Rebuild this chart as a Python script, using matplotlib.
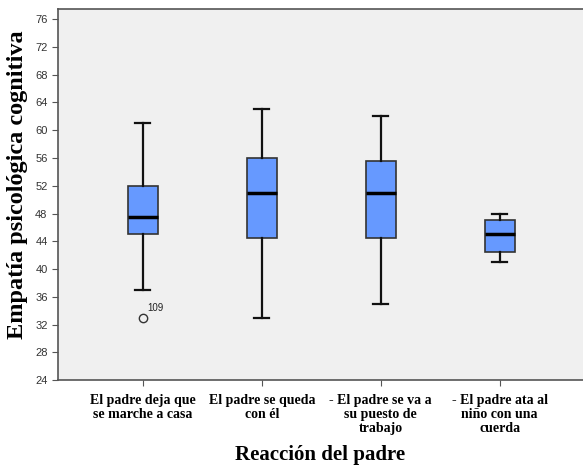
import matplotlib
matplotlib.use("Agg")
import matplotlib.pyplot as plt

# ==================================================
# DATOS
# ==================================================
categorias = ["El padre deja que\nse marche a casa",
              "El padre se queda\ncon él",
              "- El padre se va a\nsu puesto de\ntrabajo",
              "- El padre ata al\nniño con una\ncuerda"]
bigote_sup = [61, 63, 62, 48]
q3 = [52, 56, 55.5, 47]
mediana = [47.5, 51, 51, 45]
q1 = [45, 44.5, 44.5, 42.5]
bigote_inf = [37, 33, 35, 41]
atipicos = [[33], [], [], []]
etiquetas_atipicos = [["109"], [], [], []]
yticks = list(range(24, 77, 4))

# ==================================================
# GRÁFICO
# ==================================================
fig = plt.figure(figsize=(5.83, 4.74), dpi=100)
ax = fig.add_axes([0.0995, 0.198, 0.9005, 0.783])
ax.set_facecolor("#F0F0F0")

stats = []
for i in range(len(categorias)):
    stats.append({"whishi": bigote_sup[i], "q3": q3[i], "med": mediana[i],
                  "q1": q1[i], "whislo": bigote_inf[i], "fliers": atipicos[i]})

ax.bxp(stats, positions=range(len(categorias)), widths=0.25,
       patch_artist=True, showfliers=True,
       boxprops=dict(facecolor="#6699FF", edgecolor="#333333", linewidth=1.2),
       medianprops=dict(color="black", linewidth=2.5),
       whiskerprops=dict(color="#111111", linewidth=1.6),
       capprops=dict(color="#111111", linewidth=1.6),
       capwidths=0.125,
       flierprops=dict(marker="o", markerfacecolor="none",
                       markeredgecolor="#333333", markersize=6,
                       markeredgewidth=1.0))

for i, vals in enumerate(atipicos):
    for v, lab in zip(vals, etiquetas_atipicos[i]):
        ax.annotate(lab, (i, v), xytext=(3, 5), textcoords="offset points",
                    fontsize=7, color="#222222", family="Liberation Sans")

ax.set_xlim(-0.714, 3.70)
ax.set_ylim(24, 77.46)
ax.set_yticks(yticks)
ax.set_yticklabels([str(t) for t in yticks], fontsize=8,
                   family="Liberation Sans", color="#333333")
ax.set_xticks(range(len(categorias)))
ax.set_xticklabels(categorias, fontsize=10, family="Liberation Serif",
                   fontweight="bold", linespacing=1.12)
ax.tick_params(axis="both", direction="out", length=4, color="#555555")
ax.tick_params(axis="x", pad=6)

for lado in ["left", "bottom", "top"]:
    ax.spines[lado].set_color("#555555")
    ax.spines[lado].set_linewidth(1.2)
ax.spines["right"].set_visible(False)

ax.set_ylabel("Empatía psicológica cognitiva", fontsize=17.5,
              family="Liberation Serif", fontweight="bold")
ax.yaxis.set_label_coords(-0.057, 0.527)
ax.set_xlabel("Reacción del padre", fontsize=15,
              family="Liberation Serif", fontweight="bold", labelpad=7)

fig.savefig("out.png", dpi=100)
